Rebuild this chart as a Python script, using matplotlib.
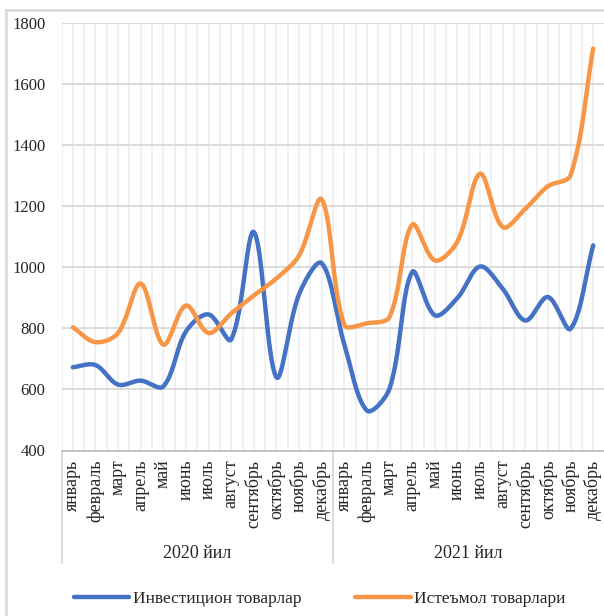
import numpy as np
import matplotlib
matplotlib.use("Agg")
import matplotlib.pyplot as plt
from matplotlib.lines import Line2D
import matplotlib.transforms as mtransforms

months = ["январь", "февраль", "март", "апрель", "май", "июнь", "июль",
          "август", "сентябрь", "октябрь", "ноябрь", "декабрь"]
years = ["2020 йил", "2021 йил"]
categories = months + months

invest = [673, 680, 616, 629, 610, 790, 846, 764, 1116, 640, 912, 1014,
          748, 531, 603, 985, 843, 900, 1003, 930, 826, 903, 799, 1072]
consumer = [804, 755, 785, 947, 747, 875, 785, 849, 908, 964, 1039, 1223,
            812, 817, 838, 1140, 1023, 1085, 1307, 1132, 1192, 1266, 1302, 1717]

series_names = ["Инвестицион товарлар", "Истеъмол товарлари"]
colors = ["#4472C4", "#F79646"]
yticks = [400, 600, 800, 1000, 1200, 1400, 1600, 1800]

plt.rcParams['font.family'] = ['Liberation Serif', 'DejaVu Serif']

W, H = 604, 616
fig = plt.figure(figsize=(W / 100, H / 100), dpi=100)
ax_left, ax_right, ax_top, ax_bot = 61.5, 604.5, 23.3, 450.5
ax = fig.add_axes([ax_left / W, 1 - ax_bot / H, (ax_right - ax_left) / W, (ax_bot - ax_top) / H])

XPX = (ax_right - ax_left) / len(categories)
YPX = (ax_bot - ax_top) / (yticks[-1] - yticks[0])


def smooth(xs, ys, n=40):
    # Bezier smoothing with chord-length weighted tangents (in pixel space)
    p = np.column_stack([np.asarray(xs, float) * XPX, np.asarray(ys, float) * YPX])
    m = len(p)
    cout = np.zeros_like(p)
    cin = np.zeros_like(p)
    for i in range(m):
        prev = p[i - 1] if i > 0 else p[i]
        nxt = p[i + 1] if i < m - 1 else p[i]
        d = nxt - prev
        lp = np.linalg.norm(p[i] - prev)
        ln = np.linalg.norm(nxt - p[i])
        tot = lp + ln if (lp + ln) > 0 else 1
        cout[i] = p[i] + d * (ln / tot) / 3
        cin[i] = p[i] - d * (lp / tot) / 3
    out = []
    t = np.linspace(0, 1, n)[:, None]
    for i in range(m - 1):
        p1, c1, c2, p2 = p[i], cout[i], cin[i + 1], p[i + 1]
        seg = ((1 - t) ** 3) * p1 + 3 * ((1 - t) ** 2) * t * c1 + 3 * (1 - t) * t ** 2 * c2 + t ** 3 * p2
        out.append(seg if i == 0 else seg[1:])
    out = np.vstack(out)
    return out[:, 0] / XPX, out[:, 1] / YPX


x = np.arange(len(categories))
for gx in np.arange(-0.5, len(categories) + 0.01, 0.5):
    ax.axvline(gx, color="#EFEFEF", lw=1.3, zorder=0)
for gy in yticks[1:]:
    ax.axhline(gy, color="#D9D9D9", lw=1.3, zorder=1)

for vals, c, name in zip([invest, consumer], colors, series_names):
    sx, sy = smooth(x, vals)
    ax.plot(sx, sy, color=c, lw=3.2, solid_capstyle='round', label=name, zorder=3)

ax.set_xlim(-0.5, len(categories) - 0.5)
ax.set_ylim(yticks[0], yticks[-1])
ax.set_yticks(yticks)
ax.set_yticklabels([str(v) for v in yticks], fontsize=12)
ax.set_xticks(x)
ax.set_xticklabels(categories, rotation=90, fontsize=13)
ax.tick_params(axis='y', length=0, pad=11.5, colors='#262626')
ax.tick_params(axis='x', length=0, pad=6.5, colors='#262626')
for s in ['top', 'right', 'left']:
    ax.spines[s].set_visible(False)
ax.spines['bottom'].set_color('#BFBFBF')
ax.spines['bottom'].set_linewidth(1.3)

trans = mtransforms.blended_transform_factory(ax.transData, ax.transAxes)
y_low = (ax_bot - 563) / (ax_bot - ax_top)
y_lab = (ax_bot - 553) / (ax_bot - ax_top)
for bx in [-0.5, 11.5, 23.5]:
    ax.add_line(Line2D([bx, bx], [0, y_low], transform=trans, color="#D9D9D9", lw=1.3, clip_on=False))
for i, yl in enumerate(years):
    ax.text(5.5 + 12 * i, y_lab, yl, transform=trans, ha='center', va='center', fontsize=13, color='#262626')

fig.add_artist(Line2D([5.5 / W, 5.5 / W], [0, 1 - 10 / H], color="#D9D9D9", lw=1.8))
fig.add_artist(Line2D([5.5 / W, 1], [1 - 10 / H, 1 - 10 / H], color="#D9D9D9", lw=1.8))

handles = [Line2D([], [], color=c, lw=3.2, solid_capstyle='round') for c in colors]
leg = fig.legend(handles, series_names, loc='center', bbox_to_anchor=(319.5 / W, 1 - 599 / H),
                 ncol=2, frameon=False, fontsize=12.5, handlelength=3.2, handletextpad=0.2,
                 columnspacing=3.1)
for t in leg.get_texts():
    t.set_color('#262626')

fig.savefig("out.png", dpi=100)
